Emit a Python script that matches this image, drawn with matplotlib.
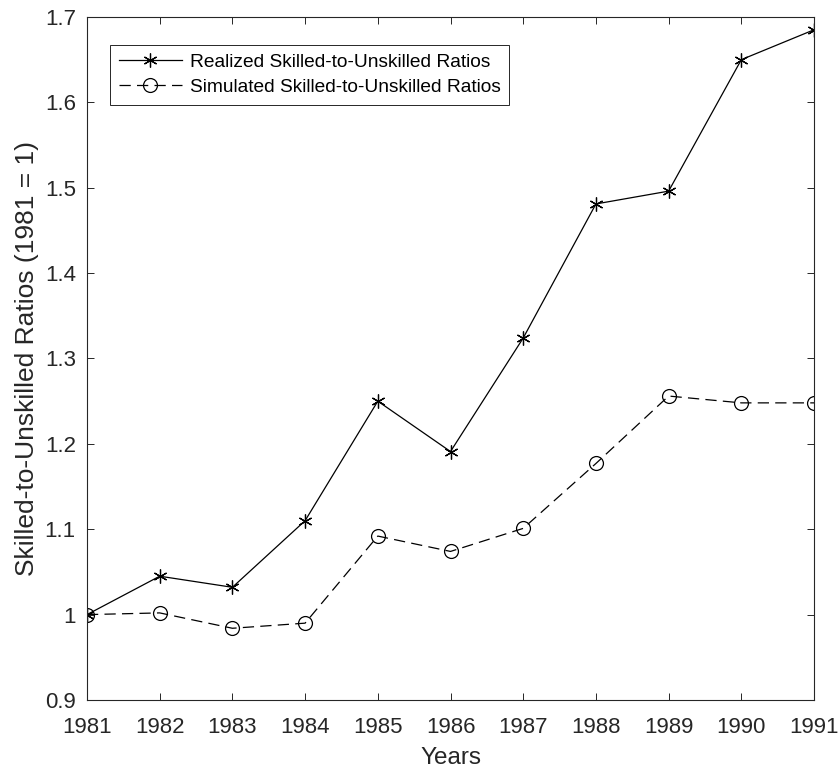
import numpy as np
import matplotlib
matplotlib.use("Agg")
import matplotlib.pyplot as plt

# Skilled-to-unskilled ratios, normalised so that 1981 = 1
years = [1981, 1982, 1983, 1984, 1985, 1986, 1987, 1988, 1989, 1990, 1991]
realized = [1.000, 1.045, 1.032, 1.110, 1.250, 1.191, 1.324, 1.481, 1.496, 1.650, 1.685]
simulated = [1.000, 1.002, 0.984, 0.990, 1.092, 1.074, 1.101, 1.177, 1.256, 1.248, 1.248]
y_ticks = [0.9, 1.0, 1.1, 1.2, 1.3, 1.4, 1.5, 1.6, 1.7]
y_ticklabels = ["0.9", "1", "1.1", "1.2", "1.3", "1.4", "1.5", "1.6", "1.7"]

plt.rcParams["font.family"] = ["Liberation Sans", "DejaVu Sans"]
axis_grey = "#262626"

fig = plt.figure(figsize=(8.38, 7.71), dpi=100)
ax = fig.add_axes([0.1038, 0.0921, 0.8676, 0.8859])

ax.plot(years, realized, color="black", linewidth=0.9, linestyle="-",
        marker=(6, 2, 0), markersize=10, markeredgewidth=0.9,
        label="Realized Skilled-to-Unskilled Ratios")
ax.plot(years, simulated, color="black", linewidth=0.9, linestyle=(0, (9, 5)),
        marker="o", markersize=10, markerfacecolor="none", markeredgewidth=0.9,
        label="Simulated Skilled-to-Unskilled Ratios")

ax.set_xlim(1981, 1991)
ax.set_ylim(0.9, 1.7)
ax.set_xticks(years)
ax.set_xticklabels([str(y) for y in years])
ax.set_yticks(y_ticks)
ax.set_yticklabels(y_ticklabels)

ax.tick_params(direction="in", length=5, width=0.7, top=True, right=True,
               labelsize=16, colors=axis_grey)
ax.tick_params(axis="x", pad=12)
ax.tick_params(axis="y", pad=8)
for s in ax.spines.values():
    s.set_color(axis_grey)
    s.set_linewidth(0.8)

ax.set_xlabel("Years", fontsize=17.5, color=axis_grey, labelpad=7)
ax.set_ylabel("Skilled-to-Unskilled Ratios (1981 = 1)", fontsize=19,
              color=axis_grey, labelpad=4)

leg = ax.legend(loc="upper left", bbox_to_anchor=(0.0316, 0.959),
                borderaxespad=0, fontsize=13.8, frameon=True, fancybox=False,
                framealpha=1, handlelength=3.3, handletextpad=0.4,
                borderpad=0.45, labelspacing=0.4)
leg.get_frame().set_edgecolor(axis_grey)
leg.get_frame().set_linewidth(0.7)

fig.savefig("out.png", dpi=100, facecolor="white")
